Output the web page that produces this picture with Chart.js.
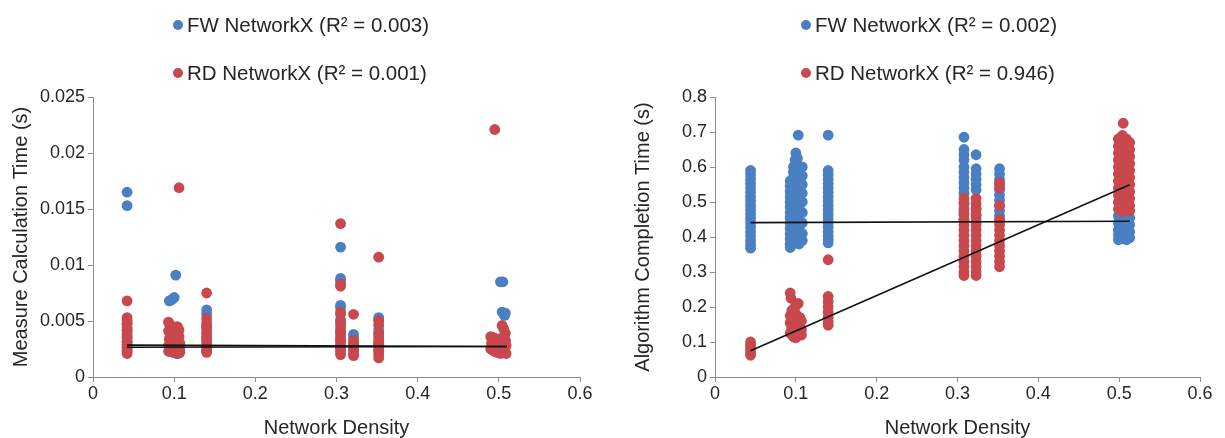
<!DOCTYPE html>
<html>
<head>
<meta charset="utf-8">
<script src="https://cdn.jsdelivr.net/npm/chart.js@4.4.1/dist/chart.umd.min.js"></script>
<style>
  html, body { margin: 0; padding: 0; background: #ffffff; }
  #wrap { position: relative; width: 1225px; height: 438px; }
  .panel { position: absolute; top: 0; height: 438px; }
  #p1 { left: 0; width: 612px; }
  #p2 { left: 612px; width: 613px; }
</style>
</head>
<body>
<div id="wrap">
  <div class="panel" id="p1"><canvas id="c1" width="612" height="438"></canvas></div>
  <div class="panel" id="p2"><canvas id="c2" width="613" height="438"></canvas></div>
</div>
<script>
// ---- axis ticks ----
const densityTicks = [0, 0.1, 0.2, 0.3, 0.4, 0.5, 0.6];
const measureTicks = [0, 0.005, 0.01, 0.015, 0.02, 0.025];
const completionTicks = [0, 0.1, 0.2, 0.3, 0.4, 0.5, 0.6, 0.7, 0.8];

// ---- series labels ----
const measureLabels = ['FW NetworkX (R\u00B2 = 0.003)', 'RD NetworkX (R\u00B2 = 0.001)'];
const completionLabels = ['FW NetworkX (R\u00B2 = 0.002)', 'RD NetworkX (R\u00B2 = 0.946)'];

// ---- measure calculation time [density, seconds] ----
const fwMeasure = [
  [0.042,0.0165],[0.042,0.0153],[0.042,0.0048],[0.042,0.0042],[0.042,0.0036],[0.042,0.0031],[0.042,0.0027],[0.042,0.0024],
  [0.102,0.0091],[0.1,0.0071],[0.097,0.0069],[0.094,0.0068],[0.095,0.0045],[0.1,0.004],[0.104,0.0035],[0.098,0.003],[0.107,0.0025],[0.093,0.0023],[0.105,0.0021],
  [0.14,0.006],[0.14,0.0056],[0.14,0.0045],[0.14,0.0035],[0.14,0.0028],[0.14,0.0023],
  [0.305,0.0116],[0.305,0.0088],[0.305,0.0086],[0.305,0.0064],[0.305,0.0062],[0.305,0.0051],[0.305,0.0047],[0.305,0.004],[0.305,0.0033],[0.305,0.0026],
  [0.321,0.0038],[0.321,0.0035],[0.321,0.0029],[0.321,0.0024],
  [0.352,0.0053],[0.352,0.0051],[0.352,0.0042],[0.352,0.0038],[0.352,0.003],[0.352,0.0024],
  [0.502,0.0085],[0.505,0.0085],[0.504,0.0058],[0.508,0.0057],[0.507,0.0055],[0.494,0.0035],[0.499,0.003],[0.503,0.0026],[0.507,0.0024],[0.508,0.0032]
];
const rdMeasure = [
  [0.042,0.0068],[0.042,0.0053],[0.042,0.005],[0.042,0.0047],[0.042,0.0044],[0.042,0.0041],[0.042,0.0038],[0.042,0.0035],[0.042,0.0032],[0.042,0.0029],[0.042,0.0026],[0.042,0.0023],[0.042,0.0021],
  [0.106,0.0169],
  [0.093,0.0049],[0.096,0.0046],[0.1,0.0044],[0.104,0.0045],[0.106,0.0042],[0.093,0.0041],[0.097,0.0038],[0.102,0.0039],[0.106,0.0036],
  [0.094,0.0034],[0.099,0.0032],[0.104,0.0031],[0.107,0.003],[0.093,0.0028],[0.097,0.0026],[0.101,0.0027],[0.105,0.0025],
  [0.094,0.0023],[0.099,0.0022],[0.103,0.0021],[0.107,0.0022],
  [0.14,0.0075],[0.14,0.0052],[0.14,0.0048],[0.14,0.0045],[0.14,0.0042],[0.14,0.0039],[0.14,0.0036],[0.14,0.0033],[0.14,0.003],[0.14,0.0027],[0.14,0.0024],[0.14,0.0022],
  [0.305,0.0137],[0.305,0.0083],[0.305,0.0081],[0.305,0.0058],[0.305,0.0056],[0.305,0.0049],[0.305,0.0044],[0.305,0.0041],[0.305,0.0038],[0.305,0.0035],[0.305,0.0032],[0.305,0.0029],[0.305,0.0026],[0.305,0.0023],[0.305,0.002],
  [0.321,0.0056],[0.321,0.0033],[0.321,0.003],[0.321,0.0027],[0.321,0.0024],[0.321,0.0021],[0.321,0.0019],
  [0.352,0.0107],[0.352,0.005],[0.352,0.0046],[0.352,0.0039],[0.352,0.0035],[0.352,0.0032],[0.352,0.0029],[0.352,0.0026],[0.352,0.0023],[0.352,0.002],[0.352,0.0017],
  [0.495,0.0221],
  [0.504,0.0046],[0.506,0.0043],[0.508,0.0039],[0.49,0.0036],[0.494,0.0035],[0.497,0.0033],[0.501,0.0034],[0.505,0.0031],[0.508,0.0033],
  [0.491,0.003],[0.495,0.0028],[0.499,0.0029],[0.503,0.0027],[0.506,0.0026],[0.509,0.0028],
  [0.49,0.0025],[0.494,0.0023],[0.498,0.0022],[0.502,0.0021],[0.505,0.0022],[0.509,0.0021]
];

// ---- algorithm completion time [density, seconds] ----
const fwCompletion = [
  [0.044,0.59],[0.044,0.578],[0.044,0.565],[0.044,0.553],[0.044,0.54],[0.044,0.528],[0.044,0.515],[0.044,0.503],[0.044,0.49],[0.044,0.478],
  [0.044,0.465],[0.044,0.453],[0.044,0.44],[0.044,0.428],[0.044,0.415],[0.044,0.403],[0.044,0.39],[0.044,0.378],[0.044,0.368],
  [0.093,0.56],[0.093,0.545],[0.093,0.53],[0.093,0.515],[0.093,0.5],[0.093,0.485],[0.093,0.47],[0.093,0.455],[0.093,0.44],[0.093,0.425],[0.093,0.41],[0.093,0.395],[0.093,0.38],[0.093,0.37],
  [0.097,0.6],[0.097,0.585],[0.097,0.57],[0.097,0.555],[0.097,0.54],[0.097,0.52],[0.097,0.5],[0.097,0.48],[0.097,0.46],[0.097,0.44],[0.097,0.42],[0.097,0.4],[0.097,0.38],
  [0.103,0.691],[0.1,0.64],[0.102,0.625],[0.1,0.61],[0.099,0.62],
  [0.104,0.6],[0.104,0.58],[0.104,0.56],[0.104,0.54],[0.104,0.52],[0.104,0.5],[0.104,0.48],[0.104,0.46],[0.104,0.44],[0.104,0.42],[0.104,0.4],[0.104,0.38],
  [0.108,0.6],[0.108,0.575],[0.108,0.55],[0.108,0.525],[0.108,0.5],[0.108,0.47],[0.108,0.44],[0.108,0.41],[0.108,0.39],
  [0.14,0.691],[0.14,0.59],[0.14,0.578],[0.14,0.565],[0.14,0.553],[0.14,0.54],[0.14,0.528],[0.14,0.515],[0.14,0.503],[0.14,0.49],[0.14,0.478],
  [0.14,0.465],[0.14,0.453],[0.14,0.44],[0.14,0.428],[0.14,0.415],[0.14,0.403],[0.14,0.392],[0.14,0.383],
  [0.308,0.685],[0.308,0.65],[0.308,0.635],[0.308,0.62],[0.308,0.6],[0.308,0.585],[0.308,0.57],[0.308,0.555],[0.308,0.54],[0.308,0.525],[0.308,0.5],[0.308,0.47],[0.308,0.45],
  [0.323,0.635],[0.323,0.595],[0.323,0.58],[0.323,0.565],[0.323,0.55],[0.323,0.535],[0.323,0.48],[0.323,0.46],[0.323,0.44],
  [0.352,0.595],[0.352,0.58],[0.352,0.565],[0.352,0.55],[0.352,0.535],[0.352,0.52],[0.352,0.505],[0.352,0.49],[0.352,0.475],[0.352,0.46],[0.352,0.445],
  [0.499,0.46],[0.499,0.44],[0.499,0.42],[0.499,0.405],[0.499,0.392],
  [0.504,0.455],[0.504,0.435],[0.504,0.415],[0.504,0.395],
  [0.509,0.46],[0.509,0.44],[0.509,0.42],[0.509,0.405],[0.509,0.392],
  [0.513,0.455],[0.513,0.435],[0.513,0.415],[0.513,0.398]
];
const rdCompletion = [
  [0.044,0.1],[0.044,0.09],[0.044,0.08],[0.044,0.07],[0.044,0.062],
  [0.093,0.24],[0.094,0.225],[0.103,0.21],[0.099,0.2],[0.095,0.19],[0.1,0.18],[0.093,0.175],[0.105,0.17],[0.097,0.165],[0.107,0.16],
  [0.093,0.155],[0.1,0.15],[0.105,0.145],[0.095,0.14],[0.107,0.135],[0.1,0.13],[0.093,0.125],[0.104,0.12],[0.097,0.115],[0.107,0.12],[0.1,0.112],
  [0.14,0.335],[0.14,0.23],[0.14,0.215],[0.14,0.2],[0.14,0.185],[0.14,0.17],[0.14,0.158],[0.14,0.148],
  [0.308,0.51],[0.308,0.495],[0.308,0.48],[0.308,0.465],[0.308,0.45],[0.308,0.435],[0.308,0.42],[0.308,0.405],[0.308,0.39],[0.308,0.375],
  [0.308,0.36],[0.308,0.345],[0.308,0.33],[0.308,0.315],[0.308,0.3],[0.308,0.29],
  [0.323,0.51],[0.323,0.495],[0.323,0.48],[0.323,0.465],[0.323,0.45],[0.323,0.435],[0.323,0.42],[0.323,0.405],[0.323,0.39],[0.323,0.375],
  [0.323,0.36],[0.323,0.345],[0.323,0.33],[0.323,0.315],[0.323,0.3],[0.323,0.29],
  [0.352,0.555],[0.352,0.54],[0.352,0.49],[0.352,0.45],[0.352,0.435],[0.352,0.42],[0.352,0.405],[0.352,0.39],[0.352,0.375],[0.352,0.36],[0.352,0.345],[0.352,0.33],[0.352,0.315],
  [0.505,0.725],
  [0.499,0.68],[0.499,0.66],[0.499,0.64],[0.499,0.62],[0.499,0.6],[0.499,0.58],[0.499,0.56],[0.499,0.54],[0.499,0.52],[0.499,0.5],[0.499,0.48],
  [0.504,0.69],[0.504,0.67],[0.504,0.65],[0.504,0.63],[0.504,0.61],[0.504,0.59],[0.504,0.57],[0.504,0.55],[0.504,0.53],[0.504,0.51],[0.504,0.49],[0.504,0.472],
  [0.509,0.68],[0.509,0.66],[0.509,0.64],[0.509,0.62],[0.509,0.6],[0.509,0.58],[0.509,0.56],[0.509,0.54],[0.509,0.52],[0.509,0.5],[0.509,0.48],
  [0.513,0.67],[0.513,0.65],[0.513,0.63],[0.513,0.61],[0.513,0.59],[0.513,0.57],[0.513,0.55],[0.513,0.53],[0.513,0.51],[0.513,0.49],[0.513,0.475]
];

// ---- least-squares trend lines, endpoints [density, seconds] ----
const fwMeasureTrend = [[0.042,0.00285],[0.51,0.00272]];
const rdMeasureTrend = [[0.042,0.00265],[0.51,0.00272]];
const fwCompletionTrend = [[0.044,0.441],[0.513,0.445]];
const rdCompletionTrend = [[0.044,0.075],[0.513,0.549]];

const BLUE = '#4a7fc3';
const RED = '#c8484d';
const FONT = "'Liberation Sans', Arial, sans-serif";
const TEXT = '#262626';
const AXIS = '#8c8c8c';

const toPts = arr => arr.map(([x, y]) => ({x, y}));

// legend drawn as two stacked rows above the plot
const stackedLegend = {
  id: 'stackedLegend',
  afterDraw(chart, args, opts) {
    const ctx = chart.ctx;
    ctx.save();
    ctx.font = `20.5px ${FONT}`;
    ctx.textBaseline = 'middle';
    ctx.textAlign = 'left';
    chart.data.datasets.filter(d => d.inLegend).forEach((d, i) => {
      const y = opts.top + i * opts.rowGap;
      ctx.beginPath();
      ctx.arc(opts.left, y, 5, 0, Math.PI * 2);
      ctx.fillStyle = d.backgroundColor;
      ctx.fill();
      ctx.fillStyle = TEXT;
      ctx.fillText(d.label, opts.left + 9, y + 1);
    });
    ctx.restore();
  }
};

function makeChart(canvasId, cfg) {
  const scatter = (label, pts, color, order) => ({
    type: 'scatter', label, data: toPts(pts), inLegend: true,
    backgroundColor: color, borderColor: color, borderWidth: 0,
    pointRadius: 5.4, pointHoverRadius: 5.4, order
  });
  const trend = pts => ({
    type: 'line', label: '', data: toPts(pts), inLegend: false,
    borderColor: '#111111', borderWidth: 1.6, pointRadius: 0, fill: false, order: 0
  });
  const tickCfg = () => ({
    font: {family: FONT, size: 18}, color: TEXT,
    callback: v => String(v)
  });
  return new Chart(document.getElementById(canvasId), {
    type: 'scatter',
    data: {
      datasets: [
        scatter(cfg.labels[0], cfg.fw, BLUE, 2),
        scatter(cfg.labels[1], cfg.rd, RED, 1),
        trend(cfg.fwTrend),
        trend(cfg.rdTrend)
      ]
    },
    plugins: [stackedLegend],
    options: {
      responsive: false,
      animation: false,
      events: [],
      layout: {padding: {left: 0, right: cfg.padRight, top: 97, bottom: 0}},
      plugins: {
        legend: {display: false},
        tooltip: {enabled: false},
        stackedLegend: {left: cfg.legendLeft, top: 25, rowGap: 48}
      },
      scales: {
        x: {
          type: 'linear', min: 0, max: 0.6,
          afterBuildTicks: s => { s.ticks = densityTicks.map(v => ({value: v})); },
          afterFit: s => { s.height = 61; },
          ticks: Object.assign(tickCfg(), {padding: 1, maxRotation: 0}),
          grid: {drawOnChartArea: false, drawTicks: true, tickLength: 5, color: AXIS},
          border: {color: AXIS, width: 1},
          title: {display: true, text: 'Network Density', font: {family: FONT, size: 20, lineHeight: 1}, color: TEXT, padding: {top: 0, bottom: 0}}
        },
        y: {
          type: 'linear', min: 0, max: cfg.yMax,
          afterBuildTicks: s => { s.ticks = cfg.yTicks.map(v => ({value: v})); },
          afterFit: s => { s.width = cfg.yWidth; },
          ticks: Object.assign(tickCfg(), {padding: 3}),
          grid: {drawOnChartArea: false, drawTicks: true, tickLength: 5, color: AXIS},
          border: {color: AXIS, width: 1},
          title: {display: true, text: cfg.yTitle, font: {family: FONT, size: 20}, color: TEXT, padding: {top: cfg.yTitlePad, bottom: 0}}
        }
      }
    }
  });
}

makeChart('c1', {
  labels: measureLabels, fw: fwMeasure, rd: rdMeasure,
  fwTrend: fwMeasureTrend, rdTrend: rdMeasureTrend,
  yMax: 0.025, yTicks: measureTicks, yTitle: 'Measure Calculation Time (s)',
  yWidth: 93, yTitlePad: 9, padRight: 32, legendLeft: 178
});
makeChart('c2', {
  labels: completionLabels, fw: fwCompletion, rd: rdCompletion,
  fwTrend: fwCompletionTrend, rdTrend: rdCompletionTrend,
  yMax: 0.8, yTicks: completionTicks, yTitle: 'Algorithm Completion Time (s)',
  yWidth: 103, yTitlePad: 19, padRight: 25, legendLeft: 194
});
</script>
</body>
</html>
